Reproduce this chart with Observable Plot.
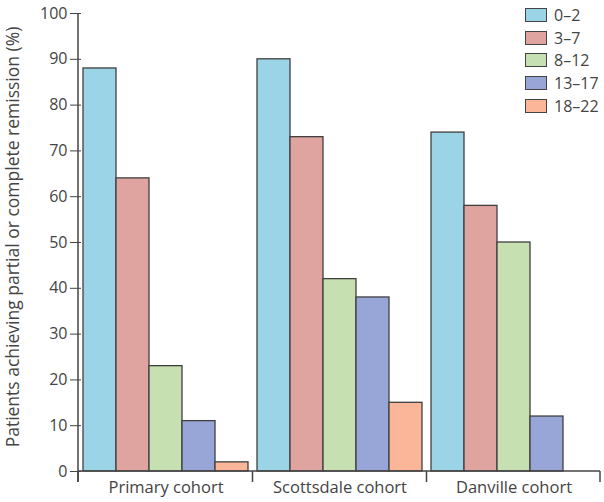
<!DOCTYPE html>
<html><head><meta charset="utf-8">
<script src="https://cdn.jsdelivr.net/npm/d3@7"></script>
<script src="https://cdn.jsdelivr.net/npm/@observablehq/plot@0.6"></script>
<style>
body{margin:0;background:#fff;font-family:"Open Sans",sans-serif;}
#wrap{position:relative;width:604px;height:502px;}
#legend{position:absolute;left:525px;top:4px;font-size:16px;color:#444;}
#legend .row{display:flex;align-items:center;height:22.6px;}
#legend .sw{width:20px;height:12px;border:1.3px solid #444;margin-right:7px;}
</style></head>
<body><div id="wrap"><div id="legend"></div></div>
<script>
const cohorts = ["Primary cohort", "Scottsdale cohort", "Danville cohort"];
const groups = ["0–2", "3–7", "8–12", "13–17", "18–22"];
const primary = [88, 64, 23, 11, 2];
const scottsdale = [90, 73, 42, 38, 15];
const danville = [74, 58, 50, 12, 0];
const colors = ["#9bd4e6", "#dfa3a0", "#c7e0b1", "#97a6d6", "#fbb599"];
const yTicks = [0,10,20,30,40,50,60,70,80,90,100];

const series = [primary, scottsdale, danville];
const data = [];
cohorts.forEach((c, i) => groups.forEach((g, j) => data.push({cohort: c, group: g, value: series[i][j]})));

const chart = Plot.plot({
  width: 604, height: 502,
  marginLeft: 78, marginRight: 4, marginTop: 13, marginBottom: 31,
  style: {fontFamily: "'Open Sans', sans-serif", fontSize: "16px", color: "#444", background: "#fff"},
  fx: {domain: cohorts, paddingInner: 0.03, paddingOuter: 0.015, label: null, axis: null},
  x: {domain: groups, padding: 0, axis: null},
  y: {domain: [0, 100], ticks: yTicks, label: null, axis: null},
  color: {domain: groups, range: colors},
  marks: [
    Plot.barY(data, {fx: "cohort", x: "group", y: "value", fill: "group", stroke: "#404040", strokeWidth: 1.3, inset: 0}),
    Plot.axisY({ticks: yTicks, tickSize: 11, tickPadding: 3, fontSize: 16, label: null, stroke: "#444"}),
    Plot.axisFx({anchor: "bottom", tickSize: 0, tickPadding: 10, fontSize: 16.5, label: null})
  ]
});
document.getElementById("wrap").prepend(chart);

// axis lines and cohort dividers derived from the library's scales
const svg = d3.select(chart);
const fx = chart.scale("fx"), y = chart.scale("y");
const y0 = y.apply(0), yTop = y.apply(100);
const left = 78, right = 600;
const g = svg.append("g").attr("stroke", "#444").attr("stroke-width", 1.5);
g.append("line").attr("x1", left).attr("x2", right).attr("y1", y0).attr("y2", y0);
g.append("line").attr("x1", left).attr("x2", left).attr("y1", yTop).attr("y2", y0 + 11);
const bw = fx.bandwidth;
const divs = [left];
for (let i = 1; i < cohorts.length; i++) divs.push((fx.apply(cohorts[i-1]) + bw + fx.apply(cohorts[i])) / 2);
divs.push(right);
divs.forEach(x => g.append("line").attr("x1", x).attr("x2", x).attr("y1", y0).attr("y2", y0 + 11));

// y-axis title
svg.append("text").attr("transform", `translate(14,${(y0 + yTop) / 2 - 5}) rotate(-90)`)
  .attr("text-anchor", "middle").attr("dominant-baseline", "middle")
  .attr("fill", "#444").style("font-size", "17.5px")
  .text("Patients achieving partial or complete remission (%)");

const leg = document.getElementById("legend");
groups.forEach((gname, i) => {
  const r = document.createElement("div"); r.className = "row";
  r.innerHTML = `<div class="sw" style="background:${colors[i]}"></div><span>${gname}</span>`;
  leg.appendChild(r);
});
</script></body></html>
